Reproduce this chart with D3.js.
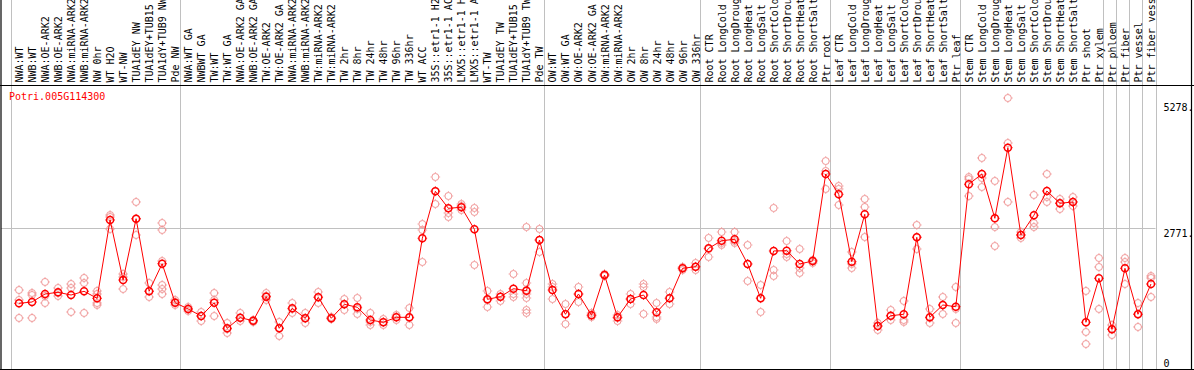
<!DOCTYPE html>
<html>
<head>
<meta charset="utf-8">
<script src="https://cdn.jsdelivr.net/npm/d3@7"></script>
<style>
	body { margin: 0; background: #fff; }
	svg { display: block; }
</style>
</head>
<body>
<div id="chart"></div>
<script>
const geneName = "Potri.005G114300";

const categories = [
	"NWA:WT", "NWB:WT", "NWA:OE-ARK2", "NWB:OE-ARK2", "NWA:miRNA-ARK2", "NWB:miRNA-ARK2", "NW 0hr", "WT H2O", "WT-NW", "TUA1dEY NW", "TUA1dEY+TUB15", "TUA1dY+TUB9 NW", "Pde NW",
	"NWA:WT GA", "NWBWT GA", "TW:WT", "TW:WT GA", "NWA:OE-ARK2 GA", "NWB:OE-ARK2 GA", "TW:OE-ARK2", "TW:OE-ARK2 GA", "NWA:miRNA-ARK2", "NWB:miRNA-ARK2", "TW:miRNA-ARK2", "TW:miRNA-ARK2 GA",
	"TW 2hr", "TW 8hr", "TW 24hr", "TW 48hr", "TW 96hr", "TW 336hr", "WT ACC", "35S::etr1-1 H2O", "35S::etr1-1 ACC", "LMX5::etr1-1 H2O", "LMX5::etr1-1 ACC", "WT-TW", "TUA1dEY TW", "TUA1dEY+TUB15", "TUA1dY+TUB9 TW", "Pde TW",
	"OW:WT", "OW:WT GA", "OW:OE-ARK2", "OW:OE-ARK2 GA", "OW:miRNA-ARK2", "OW:miRNA-ARK2 GA", "OW 2hr", "OW 8hr", "OW 24hr", "OW 48hr", "OW 96hr", "OW 336hr",
	"Root CTR", "Root LongCold", "Root LongDrought", "Root LongHeat", "Root LongSalt", "Root ShortCold", "Root ShortDrought", "Root ShortHeat", "Root ShortSalt", "Ptr root",
	"Leaf CTR", "Leaf LongCold", "Leaf LongDrought", "Leaf LongHeat", "Leaf LongSalt", "Leaf ShortCold", "Leaf ShortDrought", "Leaf ShortHeat", "Leaf ShortSalt", "Ptr leaf",
	"Stem CTR", "Stem LongCold", "Stem LongDrought", "Stem LongHeat", "Stem LongSalt", "Stem ShortCold", "Stem ShortDrought", "Stem ShortHeat", "Stem ShortSalt", "Ptr shoot",
	"Ptr xylem", "Ptr phloem", "Ptr fiber", "Ptr vessel", "Ptr fiber vessel",
];

// first category index of each sample group
const groupStarts = [0, 13, 41, 53, 63, 73, 84, 85, 86, 87];

const means = [
	1289, 1315, 1473, 1507, 1453, 1527, 1388, 2937, 1750, 2962, 1527, 2072, 1301,
	1177, 1038, 1301, 795, 1005, 945, 1420, 795, 1190, 993, 1408, 993, 1270, 1210, 959, 914, 1012, 1012, 2575, 3504, 3168, 3188, 2753, 1368, 1420, 1578, 1538, 2541,
	1552, 1072, 1473, 1052, 1849, 1012, 1374, 1453, 1111, 1388, 1981, 2013,
	2377, 2527, 2555, 2067, 1388, 2324, 2329, 2067, 2126, 3846,
	3445, 2112, 3049, 840, 1044, 1072, 2594, 1012, 1256, 1222,
	3643, 3846, 2970, 4366, 2640, 3030, 3510, 3267, 3293, 914,
	1784, 775, 1981, 1072, 1671,
];

const replicates = [
	[1552, 1355, 999], [1493, 1453, 999], [1711, 1434, 1295], [1592, 1493, 1434], [1671, 1592, 1117],
	[1790, 1691, 1098], [1533, 1473, 1295, 1256], [3035, 2996, 2759], [1869, 1809, 1572], [3293, 2956, 2640],
	[1691, 1533, 1414], [2877, 2739, 2126, 1651, 1572, 1473], [1355, 1315, 1256],
	[1216, 1177, 1137], [1117, 1038, 939], [1493, 1355, 1038], [900, 781, 702], [1098, 999, 939],
	[959, 939, 920], [1493, 1434, 1355], [920, 801, 643], [1295, 1177, 1098], [1098, 999, 900],
	[1513, 1414, 1295], [1018, 999, 979], [1374, 1275, 1157], [1394, 1177, 1078], [1098, 920, 860],
	[979, 920, 860], [1058, 1018, 959], [1196, 999, 860], [2857, 2739, 2106], [3787, 3510, 3253],
	[3411, 3075, 2996], [3253, 3213, 3134], [3174, 3095, 2047], [1533, 1355, 1216], [1473, 1414, 1335],
	[1869, 1473, 1414], [2798, 1691, 1552, 1473, 1394, 1157, 1098], [2759, 2541, 2304],
	[1671, 1612, 1374], [1275, 1078, 880], [1612, 1473, 1315], [1098, 1058, 1018], [1869, 1849, 1829],
	[1058, 999, 939], [1473, 1374, 1275], [1671, 1612, 1078], [1295, 1018, 979], [1513, 1394, 1275],
	[2007, 1987, 1948], [2086, 2007, 1948],
	[2581, 2363, 2205], [2699, 2482, 2442], [2699, 2521, 2482], [2442, 2067, 1730], [1651, 1394, 1117],
	[3174, 1948, 1829], [2521, 2264, 2205], [2363, 1987, 1889], [2146, 2126, 2086], [4103, 3906, 3550],
	[3609, 3550, 3233], [2304, 2067, 1987], [3352, 3194, 2600], [900, 840, 761], [1157, 1038, 959],
	[1335, 959, 920], [2838, 2600, 2363], [1177, 999, 900], [1414, 1256, 1078], [1612, 1177, 900],
	[3787, 3747, 3411], [4163, 3767, 3589], [3708, 2798, 2422], [5349, 4459, 3293], [2699, 2640, 2581],
	[3431, 2877, 2798], [3846, 3391, 3293], [3352, 3273, 3154], [3391, 3293, 3213], [1533, 722, 484],
	[2185, 2007, 1177], [860, 781, 662], [2185, 2106, 1671], [1295, 1078, 821], [1829, 1790, 1414],
];

const tickValues = [0, 2771, 5278];
const yMax = 5278;

class ExpressionChart {
	constructor(elem, width = 1194, height = 370) {
		this.elem = elem;
		this.width = width;
		this.height = height;
		this.plotLeft = 10.5;
		this.plotRight = 1155.5;
		this.plotTop = 101.6;
		this.plotBottom = 368.5;
		this.labelBase = 82.5;
	}

	initialize() {
		this.svg = d3
			.select(this.elem)
			.append("svg")
			.attr("width", this.width)
			.attr("height", this.height)
			.style("font-family", "'DejaVu Sans Mono', monospace")
			.style("font-size", "10px");

		const x = d3
			.scaleBand()
			.domain(d3.range(categories.length))
			.range([this.plotLeft, this.plotRight]);
		const y = d3
			.scaleLinear()
			.domain([0, yMax])
			.range([this.plotBottom, this.plotTop]);
		const cx = (i) => x(i) + 8.5;

		// group separators
		const bounds = groupStarts.map((i) => x(i)).concat([this.plotRight]);
		this.svg
			.append("g")
			.selectAll("line")
			.data(bounds)
			.enter()
			.append("line")
			.attr("x1", (d) => Math.round(d) + 0.5)
			.attr("x2", (d) => Math.round(d) + 0.5)
			.attr("y1", 0)
			.attr("y2", 369)
			.attr("stroke", "#c0c0c0");

		this.svg
			.append("line")
			.attr("x1", 1)
			.attr("x2", this.plotRight)
			.attr("y1", Math.round(y(tickValues[1])) + 0.5)
			.attr("y2", Math.round(y(tickValues[1])) + 0.5)
			.attr("stroke", "#c0c0c0");

		// frame
		const frame = this.svg.append("g").attr("stroke", "#000").attr("stroke-width", 1.2);
		frame.append("line").attr("x1", 1).attr("x2", 1).attr("y1", 0).attr("y2", this.height);
		frame.append("line").attr("x1", 1191.5).attr("x2", 1191.5).attr("y1", 0).attr("y2", this.height);
		frame.append("line").attr("x1", 0).attr("x2", this.width).attr("y1", 85.5).attr("y2", 85.5);
		frame.append("line").attr("x1", 0).attr("x2", this.width).attr("y1", 369.5).attr("y2", 369.5);

		// sample labels
		this.svg
			.append("g")
			.selectAll("text")
			.data(categories)
			.enter()
			.append("text")
			.attr("transform", (d, i) => `translate(${x(i) + 12.5}, ${this.labelBase}) rotate(-90)`)
			.attr("fill", "#000")
			.text((d) => d);

		// value axis on the right
		const yAxis = d3
			.axisRight(y)
			.tickValues(tickValues)
			.tickSize(0)
			.tickFormat((d) => (d === 0 ? "0" : d + "."));
		const axisG = this.svg
			.append("g")
			.attr("transform", `translate(${this.plotRight + 7}, 0)`)
			.call(yAxis);
		axisG.select(".domain").remove();
		axisG
			.selectAll("text")
			.attr("x", 1)
			.attr("dy", (d) => (d === 0 ? "-0.25em" : "0.85em"))
			.attr("fill", "#000")
			.style("font-family", "'DejaVu Sans Mono', monospace")
			.style("font-size", "10px");

		this.svg
			.append("text")
			.attr("x", 9)
			.attr("y", 99.5)
			.attr("fill", "red")
			.text(geneName);

		// small circle with tiny ticks at the four compass points
		const marker = (g, r, w) => {
			g.append("circle").attr("r", r).attr("fill", "none").attr("stroke-width", w);
			g.append("path")
				.attr("d", `M0,${-r - 0.4}V${-r - 1.3}M0,${r + 0.4}V${r + 1.3}M${-r - 0.4},0H${-r - 1.3}M${r + 0.4},0H${r + 1.3}`)
				.attr("fill", "none")
				.attr("stroke-width", 0.9);
		};

		// replicate points
		const reps = [];
		replicates.forEach((arr, i) => arr.forEach((v) => reps.push({ i: i, v: v })));
		this.svg
			.append("g")
			.attr("stroke", "#f09696")
			.selectAll("g")
			.data(reps)
			.enter()
			.append("g")
			.attr("transform", (d) => `translate(${cx(d.i)}, ${y(d.v)})`)
			.each(function () {
				marker(d3.select(this), 3.5, 1);
			});

		// mean line
		const line = d3
			.line()
			.x((d, i) => cx(i))
			.y((d) => y(d));
		this.svg
			.append("path")
			.datum(means)
			.attr("d", line)
			.attr("fill", "none")
			.attr("stroke", "red")
			.attr("stroke-width", 1);

		this.svg
			.append("g")
			.attr("stroke", "red")
			.selectAll("g")
			.data(means)
			.enter()
			.append("g")
			.attr("transform", (d, i) => `translate(${cx(i)}, ${y(d)})`)
			.each(function () {
				marker(d3.select(this), 3.5, 1.5);
			});
	}
}

const chart = new ExpressionChart(document.getElementById("chart"));
chart.initialize();
</script>
</body>
</html>
